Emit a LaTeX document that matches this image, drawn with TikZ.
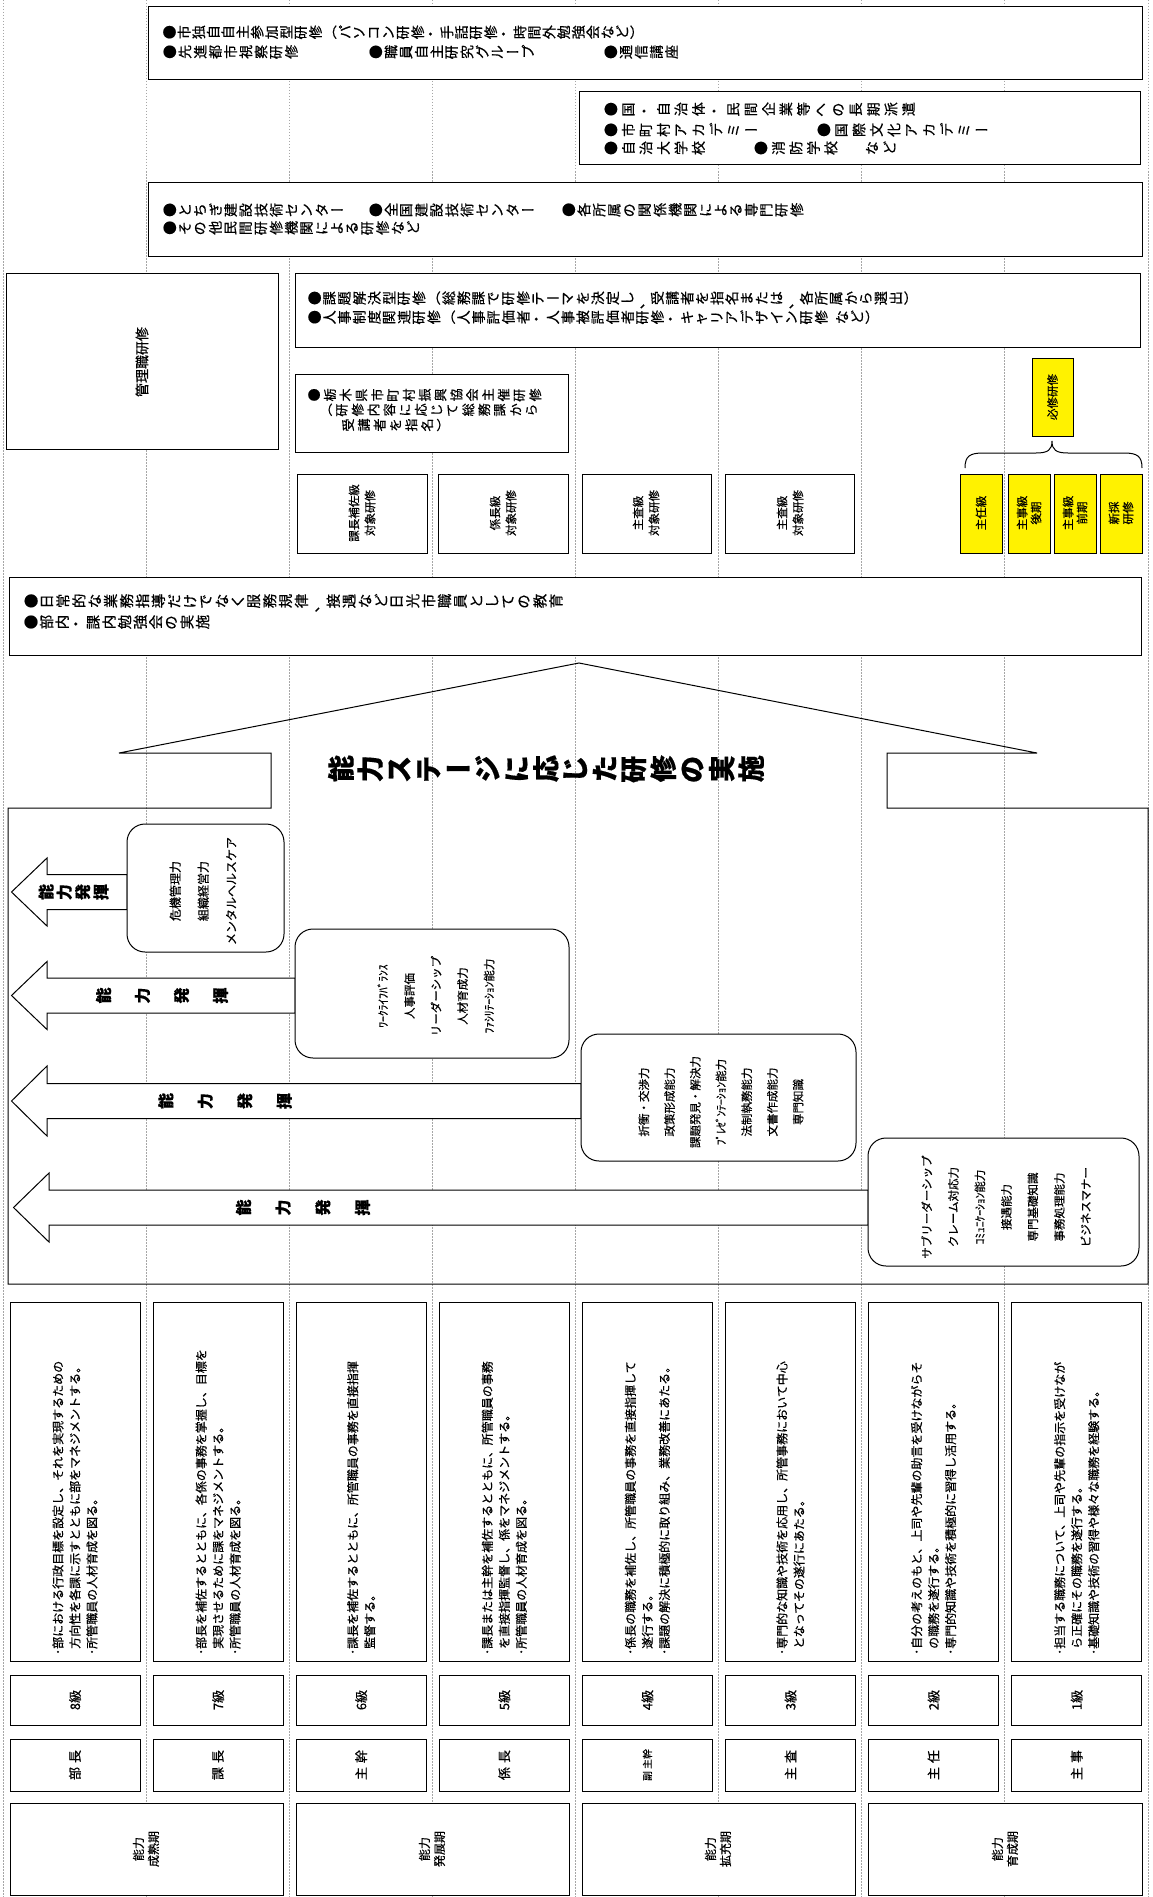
\documentclass[tikz,border=0pt]{standalone}
\usepackage{fontspec}
\setmainfont{Noto Sans CJK JP}[FakeBold=0.5]
\usepackage{graphicx}
\newlength\vtp
\newcommand\vtstop{VTSTOP}
\newcommand\vt[2]{\setlength\vtp{#1}\vtloop#2\vtstop}
\def\vtloop#1{\ifx#1\vtstop\else\vtglyph{#1}\expandafter\vtloop\fi}
\def\vtglyph#1{%
 \ifx#1ー\makebox[\vtp][c]{#1}%
 \else\ifx#1（\makebox[\vtp][c]{#1}%
 \else\ifx#1）\makebox[\vtp][c]{#1}%
 \else\ifx#1~\hspace{0.4\vtp}%
 \else\makebox[\vtp][c]{\rotatebox[origin=c]{90}{#1}}%
 \fi\fi\fi\fi}
\newcommand\fs[2]{\fontsize{#1}{#2}\selectfont}
\begin{document}
\begin{tikzpicture}[x=1pt,y=-1pt,
  grid/.style={draw=black!35, line width=0.6pt, dash pattern=on 1.5pt off 1.5pt},
  box/.style={draw=black, line width=1pt, fill=white},
  ybox/.style={draw=black, line width=1pt, fill=yellow},
  rbox/.style={draw=black, line width=1pt, fill=white, rounded corners=18pt},
  arr/.style={draw=black, line width=1pt, fill=white, line join=miter},
  vtx/.style={anchor=west, inner sep=0pt},
  rtx/.style={rotate=90, inner sep=0pt, align=center},
]
\useasboundingbox (0,0) rectangle (1153,1897);
\fill[white] (0,0) rectangle (1153,1897);
\foreach \i in {0,...,8} \draw[grid] ({3+143.1*\i},0) -- ({3+143.1*\i},1897);

% ---- top box
\path[box] (148,7) rectangle (1142,80);
\node[vtx,font=\fs{14}{16}] (t1a) at (162,33) {\vt{14.6pt}{●市独自自主参加型研修（パソコン研修・手話研修・時間外勉強会など）}};
\node[vtx,font=\fs{14}{16}] (t1b) at (162,52) {\vt{15.2pt}{●先進都市視察研修}};
\node[vtx,font=\fs{14}{16}] (t1c) at (368,52) {\vt{15.2pt}{●職員自主研究グループ}};
\node[vtx,font=\fs{14}{16}] (t1d) at (603,52) {\vt{15.2pt}{●通信講座}};

% ---- box 2
\path[box] (579,92) rectangle (1140,165);
\node[vtx,font=\fs{14}{16}] (t2a) at (602,110) {\vt{17.5pt}{●国・自治体・民間企業等への長期派遣}};
\node[vtx,font=\fs{14}{16}] (t2b) at (602,130) {\vt{17.5pt}{●市町村アカデミー}};
\node[vtx,font=\fs{14}{16}] (t2c) at (815,130) {\vt{17.5pt}{●国際文化アカデミー}};
\node[vtx,font=\fs{14}{16}] (t2d) at (602,148) {\vt{17.5pt}{●自治大学校}};
\node[vtx,font=\fs{14}{16}] (t2e) at (752,148) {\vt{17.5pt}{●消防学校}};
\node[vtx,font=\fs{14}{16}] (t2f) at (863,148) {\vt{17.5pt}{など}};

% ---- box 3
\path[box] (148,183) rectangle (1142,256);
\node[vtx,font=\fs{14}{16}] (t3a) at (162,210) {\vt{15.2pt}{●とちぎ建設技術センター}};
\node[vtx,font=\fs{14}{16}] (t3b) at (368,210) {\vt{15.2pt}{●全国建設技術センター}};
\node[vtx,font=\fs{14}{16}] (t3c) at (561,210) {\vt{15.2pt}{●各所属の関係機関による専門研修}};
\node[vtx,font=\fs{14}{16}] (t3d) at (162,228) {\vt{15.2pt}{●その他民間研修機関による研修など}};

% ---- management
\path[box] (6,273) rectangle (278,449);
\node[rtx,font=\fs{14}{16}] (kanri) at (142,362) {管理職研修};

\path[box] (295,273) rectangle (1140,347);
\node[vtx,font=\fs{14}{16}] (t4a) at (307,300) {\vt{14.9pt}{●課題解決型研修（総務課で研修テーマを決定し、受講者を指名または、各所属から選出）}};
\node[vtx,font=\fs{14}{16}] (t4b) at (307,318) {\vt{14.9pt}{●人事制度関連研修（人事評価者・人事被評価者研修・キャリアデザイン研修~など）}};

\path[box] (295,374) rectangle (568,452);
\node[vtx,font=\fs{13}{15}] (t5a) at (306,395) {\vt{15.8pt}{●栃木県市町村振興協会主催研修}};
\node[vtx,font=\fs{13}{15}] (t5b) at (318,410) {\vt{15.8pt}{（研修内容に応じて総務課から}};
\node[vtx,font=\fs{13}{15}] (t5c) at (340,425) {\vt{15.8pt}{受講者を指名）}};

% ---- level boxes
\path[box] (297,474) rectangle (427,553);
\node[rtx,font=\fs{11.5}{16}] (la) at (362,513) {課長補佐級\\対象研修};
\path[box] (438,474) rectangle (568,553);
\node[rtx,font=\fs{11.5}{16}] (lb) at (503,513) {係長級\\対象研修};
\path[box] (582,474) rectangle (711,553);
\node[rtx,font=\fs{11.5}{16}] (lc) at (646,513) {主査級\\対象研修};
\path[box] (725,474) rectangle (854,553);
\node[rtx,font=\fs{11.5}{16}] (ld) at (790,513) {主査級\\対象研修};

% ---- yellow
\path[ybox] (1032,358) rectangle (1073,436);
\node[rtx,font=\fs{11.5}{14}] (hisshu) at (1052.5,397) {必修研修};
\draw[line width=1pt] (965,468) .. controls (965,456) and (970,453) .. (983,453) -- (1036,453) .. controls (1048,453) and (1052,450) .. (1052,441) .. controls (1052,450) and (1056,453) .. (1068,453) -- (1124,453) .. controls (1137,453) and (1142,456) .. (1142,468);
\path[ybox] (960,474) rectangle (1002,553);
\node[rtx,font=\fs{11.5}{14}] (y1) at (981,513) {主任級};
\path[ybox] (1008,474) rectangle (1050,553);
\node[rtx,font=\fs{11.5}{14}] (y2) at (1029,513) {主事級\\後期};
\path[ybox] (1054,474) rectangle (1096,553);
\node[rtx,font=\fs{11.5}{14}] (y3) at (1075,513) {主事級\\前期};
\path[ybox] (1100,474) rectangle (1142,553);
\node[rtx,font=\fs{11.5}{14}] (y4) at (1121,513) {新採\\研修};

% ---- daily
\path[box] (9,577) rectangle (1141,655);
\node[vtx,font=\fs{14.5}{16}] (t6a) at (23,603) {\vt{15.9pt}{●日常的な業務指導だけでなく服務規律、接遇など日光市職員としての教育}};
\node[vtx,font=\fs{14.5}{16}] (t6b) at (23,623) {\vt{15.6pt}{●部内・課内勉強会の実施}};

% ---- house
\draw[line width=1pt, line join=miter] (8,1284) -- (8,808) -- (271,808) -- (271,753) -- (119,753) -- (579,663) -- (1037,753) -- (887,753) -- (887,808) -- (1148,808) -- (1148,1284) -- cycle;
\node[inner sep=0pt, font=\bfseries\fs{27}{30}] (title) at (546,769) {\vt{29.3pt}{能力ステージに応じた研修の実施}};

% ---- arrows
\path[arr] (11.5,892) -- (47,858) -- (47,874.5) -- (127,874.5) -- (127,909.5) -- (47,909.5) -- (47,926) -- cycle;
\path[arr] (11.5,995.5) -- (47,961.5) -- (47,978) -- (295,978) -- (295,1013) -- (47,1013) -- (47,1029.5) -- cycle;
\path[arr] (11.5,1101) -- (47,1066) -- (47,1083.5) -- (581,1083.5) -- (581,1118.5) -- (47,1118.5) -- (47,1136) -- cycle;
\path[arr] (13.5,1207.5) -- (49,1173) -- (49,1190) -- (868,1190) -- (868,1225) -- (49,1225) -- (49,1242) -- cycle;
\node[inner sep=0pt, font=\bfseries\fs{16}{18}] (a1) at (73.5,892) {\vt{18.3pt}{能力発揮}};
\node[inner sep=0pt, font=\bfseries\fs{16}{18}] (a2) at (162,995.5) {\vt{39pt}{能力発揮}};
\node[inner sep=0pt, font=\bfseries\fs{16}{18}] (a3) at (225,1101) {\vt{39.5pt}{能力発揮}};
\node[inner sep=0pt, font=\bfseries\fs{16}{18}] (a4) at (303,1207.5) {\vt{39.7pt}{能力発揮}};

% ---- rounded boxes
\path[rbox] (127,824) rectangle (284,952);
\node[rtx,font=\fs{12}{28}] (r1) at (203,891) {危機管理力\\組織経営力\\メンタルヘルスケア};
\path[rbox] (295,929) rectangle (569,1058);
\node[rtx,font=\fs{11.5}{26.5}] (r2) at (436,996) {ﾜｰｸﾗｲﾌﾊﾞﾗﾝｽ\\人事評価\\リーダーシップ\\人材育成力\\ﾌｧｼﾘﾃｰｼｮﾝ能力};
\path[rbox] (581,1034) rectangle (856,1161);
\node[rtx,font=\fs{11.5}{25.7}] (r3) at (721,1102) {折衝・交渉力\\政策形成能力\\課題発見・解決力\\ﾌﾟﾚｾﾞﾝﾃｰｼｮﾝ能力\\法制執務能力\\文書作成能力\\専門知識};
\path[rbox] (868,1138) rectangle (1139,1266);
\node[rtx,font=\fs{11.5}{26.5}] (r4) at (1006,1207) {サブリーダーシップ\\クレーム対応力\\ｺﾐｭﾆｹｰｼｮﾝ能力\\接遇能力\\専門基礎知識\\事務処理能力\\ビジネスマナー};

% ---- bottom descriptions
\foreach \i in {0,...,7} {
  \path[box] ({10+143.1*\i},1302) rectangle ({140+143.1*\i},1661);
  \path[box] ({10+143.1*\i},1675) rectangle ({140+143.1*\i},1725);
  \path[box] ({10+143.1*\i},1739) rectangle ({140+143.1*\i},1791);
}
\node[rtx,anchor=west,align=left,font=\fs{12}{17}] (d0) at (75,1655) {･部における行政目標を設定し、それを実現するための\\\hspace*{0.5em}方向性を各課に示すとともに部をマネジメントする。\\･所管職員の人材育成を図る。};
\node[rtx,anchor=west,align=left,font=\fs{12}{17}] (d1) at (218.1,1655) {･部長を補佐するとともに、各係の事務を掌握し、目標を\\\hspace*{0.5em}実現させるために課をマネジメントする。\\･所管職員の人材育成を図る。};
\node[rtx,anchor=west,align=left,font=\fs{12}{17}] (d2) at (361.2,1655) {･課長を補佐するとともに、所管職員の事務を直接指揮\\\hspace*{0.5em}監督する。};
\node[rtx,anchor=west,align=left,font=\fs{12}{17}] (d3) at (504.3,1655) {･課長または主幹を補佐するとともに、所管職員の事務\\\hspace*{0.5em}を直接指揮監督し、係をマネジメントする。\\･所管職員の人材育成を図る。};
\node[rtx,anchor=west,align=left,font=\fs{12}{17}] (d4) at (647.4,1655) {･係長の職務を補佐し、所管職員の事務を直接指揮して\\\hspace*{0.5em}遂行する。\\･課題の解決に積極的に取り組み、業務改善にあたる。};
\node[rtx,anchor=west,align=left,font=\fs{12}{17}] (d5) at (790.5,1655) {･専門的な知識や技術を応用し、所管事務において中心\\\hspace*{0.5em}となってその遂行にあたる。};
\node[rtx,anchor=west,align=left,font=\fs{12}{17}] (d6) at (933.6,1655) {･自分の考えのもと、上司や先輩の助言を受けながらそ\\\hspace*{0.5em}の職務を遂行する。\\･専門的知識や技術を積極的に習得し活用する。};
\node[rtx,anchor=west,align=left,font=\fs{12}{17}] (d7) at (1076.7,1655) {･担当する職務について、上司や先輩の指示を受けなが\\\hspace*{0.5em}ら正確にその職務を遂行する。\\･基礎知識や技術の習得や様々な職務を経験する。};

% ---- grades
\node[rtx,font=\fs{13}{15}] (g8) at (75,1700) {8級};
\node[rtx,font=\fs{13}{15}] (g7) at (218.1,1700) {7級};
\node[rtx,font=\fs{13}{15}] (g6) at (361.2,1700) {6級};
\node[rtx,font=\fs{13}{15}] (g5) at (504.3,1700) {5級};
\node[rtx,font=\fs{13}{15}] (g4) at (647.4,1700) {4級};
\node[rtx,font=\fs{13}{15}] (g3) at (790.5,1700) {3級};
\node[rtx,font=\fs{13}{15}] (g2) at (933.6,1700) {2級};
\node[rtx,font=\fs{13}{15}] (g1) at (1076.7,1700) {1級};

\node[rtx,font=\fs{13}{15}] (p8) at (75,1765) {部\kern4pt 長};
\node[rtx,font=\fs{13}{15}] (p7) at (218.1,1765) {課\kern4pt 長};
\node[rtx,font=\fs{13}{15}] (p6) at (361.2,1765) {主\kern4pt 幹};
\node[rtx,font=\fs{13}{15}] (p5) at (504.3,1765) {係\kern4pt 長};
\node[rtx,font=\fs{10}{12}] (p4) at (647.4,1765) {副\kern2pt 主幹};
\node[rtx,font=\fs{13}{15}] (p3) at (790.5,1765) {主\kern4pt 査};
\node[rtx,font=\fs{13}{15}] (p2) at (933.6,1765) {主\kern4pt 任};
\node[rtx,font=\fs{13}{15}] (p1) at (1076.7,1765) {主\kern4pt 事};

% ---- stages
\path[box] (10,1803) rectangle (283,1895);
\path[box] (296,1803) rectangle (569,1895);
\path[box] (582,1803) rectangle (855,1895);
\path[box] (868,1803) rectangle (1142,1895);
\node[rtx,font=\fs{12}{15}] (s1) at (146,1849) {能力\\成熟期};
\node[rtx,font=\fs{12}{15}] (s2) at (432,1849) {能力\\発展期};
\node[rtx,font=\fs{12}{15}] (s3) at (718,1849) {能力\\拡充期};
\node[rtx,font=\fs{12}{15}] (s4) at (1005,1849) {能力\\育成期};
\end{tikzpicture}
\end{document}
